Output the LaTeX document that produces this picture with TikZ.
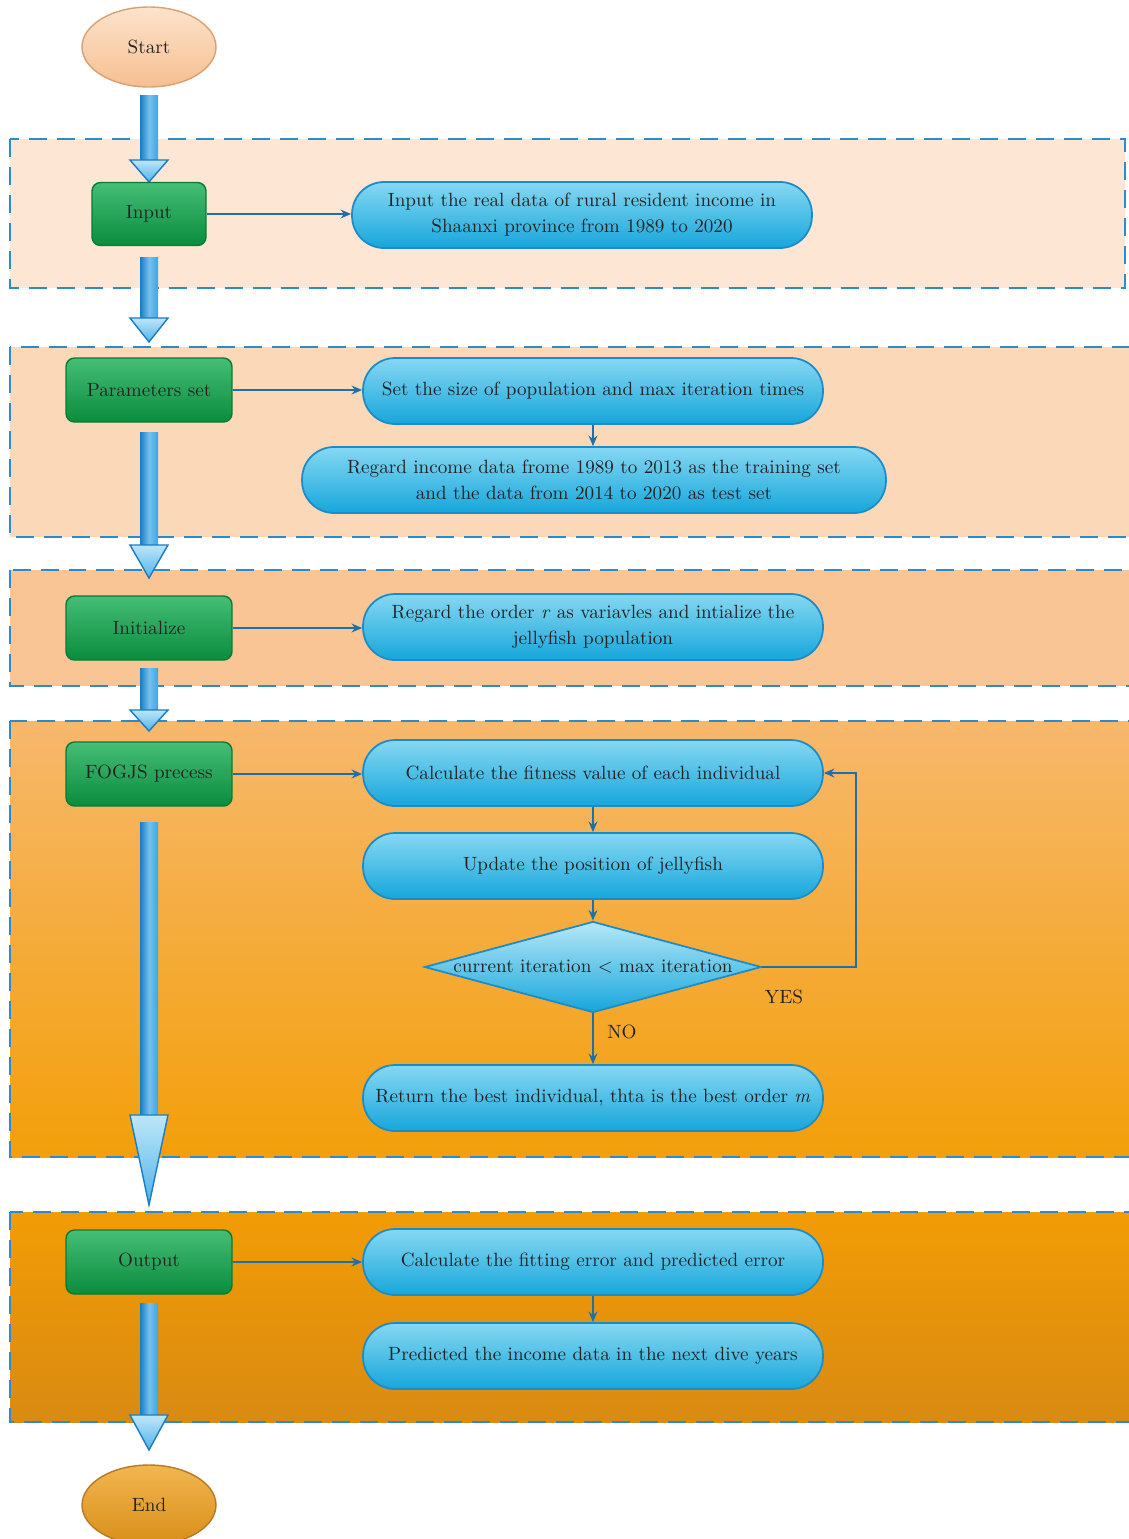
\documentclass[tikz,border=0pt]{standalone}
\usetikzlibrary{shapes.geometric,arrows.meta,calc}
\definecolor{dashblue}{HTML}{2E8BC9}
\definecolor{rA}{HTML}{FDE6D3}
\definecolor{rB}{HTML}{FBD8B7}
\definecolor{rC}{HTML}{F9C595}
\definecolor{rDt}{HTML}{F7B86C}
\definecolor{rDb}{HTML}{F39F0A}
\definecolor{rEt}{HTML}{F29C05}
\definecolor{rEb}{HTML}{D98A12}
\definecolor{gtop}{HTML}{45BE76}
\definecolor{gbot}{HTML}{0A8C3D}
\definecolor{gline}{HTML}{0A7A36}
\definecolor{ptop}{HTML}{86D8F2}
\definecolor{pbot}{HTML}{16A6DB}
\definecolor{pline}{HTML}{1C8CC8}
\definecolor{arr}{HTML}{1F6FA8}
\definecolor{txt}{HTML}{222222}
\definecolor{shL}{HTML}{1A7CC4}
\definecolor{shR}{HTML}{3AA6E6}
\definecolor{hdT}{HTML}{BFE6F8}
\definecolor{hdB}{HTML}{4FB4EA}
\definecolor{stT}{HTML}{FCE3CC}
\definecolor{stB}{HTML}{F6BF90}
\definecolor{stL}{HTML}{D9A070}
\definecolor{enT}{HTML}{F2B650}
\definecolor{enB}{HTML}{D88E18}
\definecolor{enL}{HTML}{B87A20}
\tikzset{
  regionline/.style={draw=dashblue, line width=1.6pt, dash pattern=on 0.36cm off 0.2cm},
  greenbox/.style={rectangle, rounded corners=0.17cm, top color=gtop, bottom color=gbot, draw=gline, line width=0.8pt, minimum width=3.32cm, minimum height=1.28cm, text=txt, inner sep=2pt},
  pill/.style={rectangle, rounded corners=0.64cm, top color=ptop, bottom color=pbot, draw=pline, line width=1pt, minimum width=9.2cm, minimum height=1.32cm, text=txt, align=center, inner sep=2pt},
  oval/.style={ellipse, minimum width=2.68cm, minimum height=1.6cm, line width=0.8pt, text=txt},
  thinarr/.style={draw=arr, line width=1.3pt, -{Stealth[length=6pt,width=5pt]}},
  shaftstyle/.style={left color=shL, right color=shR, middle color=shR!70!white},
  headstyle/.style={top color=hdT, bottom color=hdB, draw=shL, line width=0.8pt, line join=miter},
  lbl/.style={text=txt, inner sep=1pt}
}
\newcommand{\bigarrow}[4]{%
  \fill[shaftstyle] (#1-9,#2) rectangle (#1+9,#3);
  \draw[headstyle] (#1-19,#3) -- (#1+19,#3) -- (#1,#4) -- cycle;}
\begin{document}
\begin{tikzpicture}[x=0.02cm,y=-0.02cm, font=\fontsize{10.9}{14.8}\selectfont]
\useasboundingbox (0,0) rectangle (1129,1539);
\clip (0,0) rectangle (1129,1539);
% regions
\fill[rA] (10,139) rectangle (1125,288);
\draw[regionline] (10,139) rectangle (1125,288);
\fill[rB] (10,347) rectangle (1150,537);
\draw[regionline] (10,347) rectangle (1150,537);
\fill[rC] (10,570) rectangle (1150,686);
\draw[regionline] (10,570) rectangle (1150,686);
\shade[top color=rDt, bottom color=rDb] (10,721) rectangle (1150,1157);
\draw[regionline] (10,721) rectangle (1150,1157);
\shade[top color=rEt, bottom color=rEb] (10,1212) rectangle (1150,1422);
\draw[regionline] (10,1212) rectangle (1150,1422);
% big arrows
\bigarrow{149}{95}{160}{182}
\bigarrow{149}{257}{318}{342}
\bigarrow{149}{432}{545}{578}
\bigarrow{149}{668}{710}{731}
\bigarrow{149}{822}{1115}{1205}
\bigarrow{149}{1303}{1415}{1450}
% start / end
\node[oval, top color=stT, bottom color=stB, draw=stL] (start) at (149,47) {Start};
\node[oval, top color=enT, bottom color=enB, draw=enL] (end) at (149,1505) {End};
% green boxes
\node[greenbox, minimum width=2.28cm, minimum height=1.26cm] (input) at (149,214) {Input};
\node[greenbox] (params) at (149,390) {Parameters set};
\node[greenbox] (init) at (149,628) {Initialize};
\node[greenbox] (fogjs) at (149,774) {FOGJS precess};
\node[greenbox] (output) at (149,1262) {Output};
% pills
\node[pill] (inpill) at (582,215) {Input the real data of rural resident income in\\Shaanxi province from 1989 to 2020};
\node[pill] (setpill) at (593,391) {Set the size of population and max iteration times};
\node[pill, minimum width=11.68cm] (regpill) at (594,480) {Regard income data frome 1989 to 2013 as the training set\\and the data from 2014 to 2020 as test set};
\node[pill] (initpill) at (593,627) {Regard the order \textit{r} as variavles and intialize the\\jellyfish population};
\node[pill] (fitpill) at (593,773) {Calculate the fitness value of each individual};
\node[pill] (updpill) at (593,866) {Update the position of jellyfish};
\node[diamond, minimum width=6.74cm, minimum height=1.82cm, inner sep=0pt, top color=ptop!60!white, bottom color=pbot, draw=pline, line width=1pt] (dec) at (593,967) {};
\node[lbl] (dectxt) at (dec.center) {current iteration $<$ max iteration};
\node[pill] (retpill) at (593,1098) {Return the best individual, thta is the best order \textit{m}};
\node[pill] (calcpill) at (593,1262) {Calculate the fitting error and predicted error};
\node[pill] (predpill) at (593,1356) {Predicted the income data in the next dive years};
% thin connectors
\draw[thinarr] (input.east) -- (input.east -| inpill.west);
\draw[thinarr] (params.east) -- (params.east -| setpill.west);
\draw[thinarr] (init.east) -- (init.east -| initpill.west);
\draw[thinarr] (fogjs.east) -- (fogjs.east -| fitpill.west);
\draw[thinarr] (output.east) -- (output.east -| calcpill.west);
\draw[thinarr] (setpill.south) -- (setpill.south |- regpill.north);
\draw[thinarr] (fitpill.south) -- (updpill.north);
\draw[thinarr] (updpill.south) -- (dec.north);
\draw[thinarr] (dec.south) -- (retpill.north);
\draw[thinarr] (calcpill.south) -- (predpill.north);
\coordinate (loopc) at (856,967);
\draw[thinarr] (dec.east) -- (loopc) |- (fitpill.east);
\node[lbl] (yes) at (784,997) {YES};
\node[lbl] (no) at (622,1032) {NO};
\end{tikzpicture}
\end{document}
